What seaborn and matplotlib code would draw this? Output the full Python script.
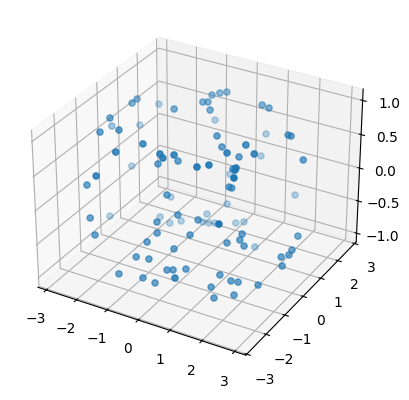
import numpy as np
import pandas as pd
import matplotlib
matplotlib.use("Agg")
import matplotlib.pyplot as plt
import seaborn as sns

x_vals = [-2.40, -0.94, -2.14, -2.13, -2.19, -2.99, -1.61, -2.72, -2.21, -0.64, -1.03, 0.04, 0.22, 0.39, -0.16, -0.63,
          -2.62, -1.27, -2.16, -0.18, -0.32, -0.45, -0.34, -0.46, -0.05, -0.88, 1.05, 1.30, 0.58, 0.49, 2.25, 2.33,
          0.77, 1.77, 1.55, 2.20, 0.51, 1.24, 2.78, 1.24, 1.46, 2.15, 1.18, 2.18, -0.12, 2.36, 1.21, 1.28, 1.64,
          -0.19, -1.43, -1.86, -2.81, -1.62, -1.56, 0.20, -1.01, -0.25, -1.27, -0.17, 0.62, -0.35, 0.34, -0.50,
          -0.18, 0.32, 0.46, 0.76, -0.80, -0.20, 1.13, 0.11, 0.02, -0.42, 0.70, -0.46, -0.30, -0.15, 2.32, 0.37,
          0.56, 1.84, 3.00, 1.54, 1.82, 1.97, 1.16, 2.99, 2.99, 2.92, 3.00, 1.59, 1.90, 2.08, 2.56, 1.47, 2.06, 1.61]
y_vals = [1.74, 0.26, 0.26, 0.00, -0.98, 0.25, -1.41, 1.24, -1.43, -1.73, -2.42, -1.96, -2.10, -1.83, -0.78, -1.04,
          0.65, -2.99, -2.17, 1.76, 1.62, 1.42, 1.03, 0.96, 0.67, 2.29, 1.58, 1.52, 0.00, 2.81, 0.91, 0.93,
          -0.06, -0.50, -1.09, -0.80, 2.51, 0.05, 0.82, -2.07, -1.84, -1.64, -0.16, -1.74, 1.86, -2.09, -0.40, -0.38, 2.51,
          -1.29, 0.82, -2.49, -0.21, -2.63, 0.45, -1.37, 0.69, -1.70, 0.51, -1.82, -1.43, -2.04, -1.79, -2.35,
          -2.22, -2.11, -2.03, -1.86, -2.74, -2.49, -2.98, -2.38, 1.49, 1.12, -1.15, 0.97, 1.03, 1.11, -2.75, 1.39,
          1.52, -0.76, 0.24, -1.04, -0.84, -0.87, 1.12, -0.06, -0.22, -0.52, -0.60, -1.48, -1.42, -1.35, -1.11, -1.73, -1.52, -1.81]
z_vals = [0.56, 1.00, 1.00, 1.00, 1.00, 0.50, 1.00, 0.32, 0.90, 1.00, 1.00, 1.00, 1.00, 1.00, 0.59, 0.55,
          -0.15, 0.77, 0.32, 1.00, 1.00, 1.00, 1.00, 1.00, 1.00, 0.38, 1.00, 1.00, 0.86, 0.22, 0.87, 0.86,
          0.74, 1.00, 1.00, 1.00, -0.04, 0.63, 0.60, 1.00, 1.00, 1.00, 0.50, 1.00, -0.24, 1.00, 0.30, 0.29, -0.49,
          0.22, -0.51, -0.04, -0.73, -0.22, -0.74, 0.00, -0.79, -0.08, -0.81, -0.20, -0.22, -0.30, -0.37, -0.46,
          -0.48, -0.60, -0.60, -0.59, -0.65, -0.69, -0.36, -0.75, -0.59, -0.71, -0.06, -0.80, -0.81, -0.81, 0.52, -0.81,
          -0.80, -0.21, -0.34, -0.31, -0.28, -0.34, -1.00, -0.47, -0.50, -0.46, -0.56, -0.66, -0.72, -0.73, -0.77, -0.79, -0.88, -0.91]
xy_ticks = [-3, -2, -1, 0, 1, 2, 3]
z_ticks = [-1.0, -0.5, 0.0, 0.5, 1.0]

df = pd.DataFrame({"x": x_vals, "y": y_vals, "z": z_vals})
color = sns.color_palette("tab10")[0]

W, H = 410, 400
fig = plt.figure(figsize=(W / 100, H / 100), dpi=100)
ax = fig.add_axes([10 / W, 21.5 / H, 370 / W, 370 / H], projection="3d")
ax.scatter(df["x"], df["y"], df["z"], color=color)
ax.set_xlim(-3.28, 3.34)
ax.set_ylim(-3.05, 3.1)
ax.set_zlim(-1.135, 1.165)
ax.set_xticks(xy_ticks)
ax.set_yticks(xy_ticks)
ax.set_zticks(z_ticks)
fig.savefig("out.png", dpi=100)
